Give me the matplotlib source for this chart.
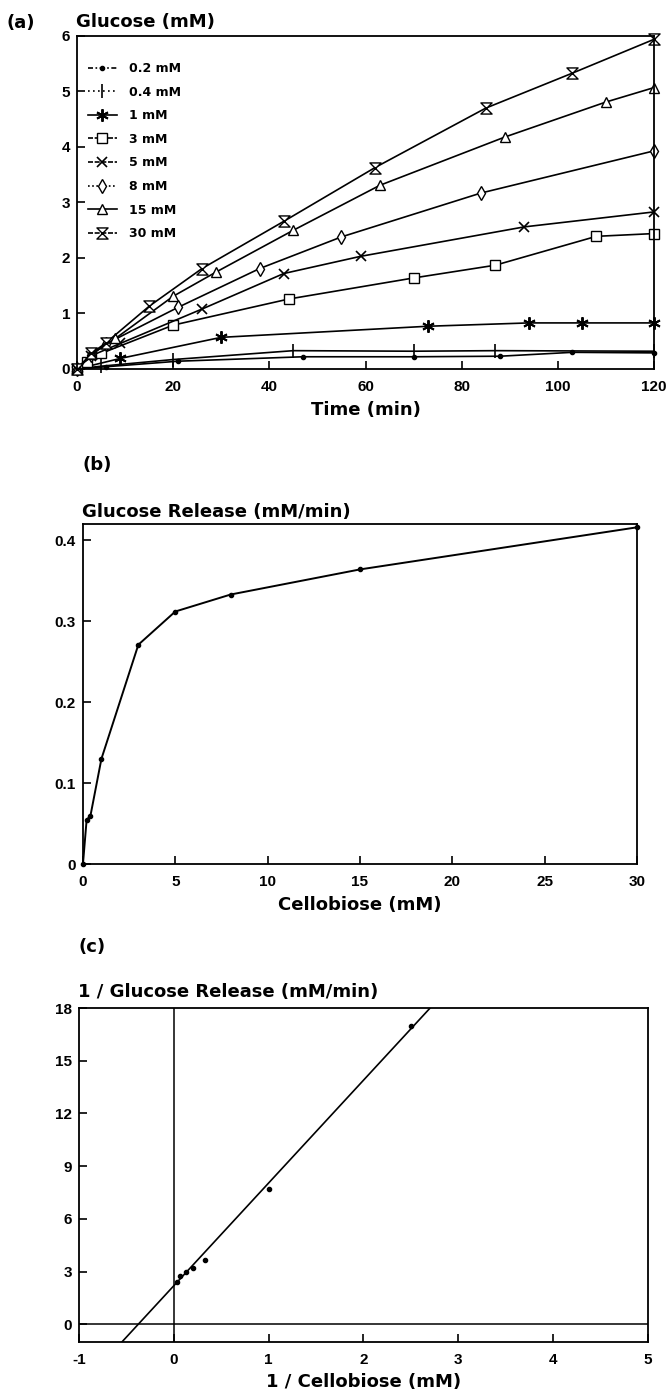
import matplotlib
matplotlib.use("Agg")
import matplotlib.pyplot as plt
import numpy as np
from matplotlib.path import Path
from matplotlib.lines import Line2D

plt.rcParams["font.family"] = "DejaVu Sans"
plt.rcParams["font.weight"] = "bold"
plt.rcParams["axes.unicode_minus"] = False

# (a) glucose produced over time for each starting cellobiose concentration
conc_labels = ["0.2 mM", "0.4 mM", "1 mM", "3 mM", "5 mM", "8 mM", "15 mM", "30 mM"]
t_02 = [0, 6, 21, 47, 70, 88, 103, 120]
g_02 = [0, 0.04, 0.14, 0.22, 0.22, 0.23, 0.30, 0.29]
t_04 = [0, 5, 20, 45, 70, 87, 120]
g_04 = [0, 0.05, 0.17, 0.33, 0.32, 0.33, 0.32]
t_1 = [0, 9, 30, 73, 94, 105, 120]
g_1 = [0, 0.19, 0.57, 0.77, 0.83, 0.83, 0.83]
t_3 = [0, 2, 5, 20, 44, 70, 87, 108, 120]
g_3 = [0, 0.12, 0.28, 0.79, 1.26, 1.64, 1.87, 2.39, 2.44]
t_5 = [0, 3, 9, 26, 43, 59, 93, 120]
g_5 = [0, 0.24, 0.46, 1.08, 1.72, 2.03, 2.56, 2.83]
t_8 = [0, 3, 6, 21, 38, 55, 84, 120]
g_8 = [0, 0.25, 0.45, 1.11, 1.81, 2.38, 3.17, 3.93]
t_15 = [0, 3, 8, 20, 29, 45, 63, 89, 110, 120]
g_15 = [0, 0.27, 0.55, 1.31, 1.75, 2.50, 3.31, 4.18, 4.81, 5.07]
t_30 = [0, 3, 6, 15, 26, 43, 62, 85, 103, 120]
g_30 = [0, 0.28, 0.47, 1.13, 1.81, 2.66, 3.63, 4.70, 5.33, 5.94]

# (b) initial glucose release rate vs cellobiose
cellobiose = [0, 0.2, 0.4, 1, 3, 5, 8, 15, 30]
release = [0, 0.055, 0.059, 0.130, 0.271, 0.312, 0.333, 0.364, 0.416]

# (c) Lineweaver-Burk fit parameters
vmax = 0.455
km = 2.66

hourglass = Path([(-1, 1), (1, 1), (-1, -1), (1, -1), (0, 0)],
                 [Path.MOVETO, Path.LINETO, Path.LINETO, Path.LINETO, Path.CLOSEPOLY])

series = [
    (t_02, g_02, dict(marker="o", ms=3, mfc="black")),
    (t_04, g_04, dict(marker="|", ms=10, mew=1.2)),
    (t_1, g_1, dict(marker=(6, 2, 0), ms=9, mew=1.4)),
    (t_3, g_3, dict(marker="s", ms=6.5, mfc="white")),
    (t_5, g_5, dict(marker="x", ms=7.5, mew=1.2)),
    (t_8, g_8, dict(marker="d", ms=7.5, mfc="white")),
    (t_15, g_15, dict(marker="^", ms=7.5, mfc="white")),
    (t_30, g_30, dict(marker=hourglass, ms=8, mfc="white")),
]
legend_styles = [(0, (3, 1.5, 1, 1.5)), (0, (1, 2)), "-", (0, (3, 1)), (0, (3, 1)),
                 (0, (1, 1.5)), "-", (0, (3, 1))]

tick_font = dict(fontfamily="Liberation Sans", fontweight="bold", fontsize=11)
label_font = dict(fontsize=13, fontweight="bold")

fig = plt.figure(figsize=(6.69, 13.95), dpi=100)
ax_a = fig.add_axes([0.1151, 0.7355, 0.8625, 0.2387])
ax_b = fig.add_axes([0.124, 0.3806, 0.828, 0.2437])
ax_c = fig.add_axes([0.118, 0.038, 0.8505, 0.2394])

for ax in (ax_a, ax_b, ax_c):
    for sp in ax.spines.values():
        sp.set_linewidth(1.3)
    ax.tick_params(direction="in", length=6, width=1.2, pad=5)
    ax.tick_params(axis="x", pad=8)

# panel (a)
handles = []
for (t, g, style), lbl, ls in zip(series, conc_labels, legend_styles):
    ax_a.plot(t, g, color="black", lw=1.2, mec="black", clip_on=False, **style)
    handles.append(Line2D([], [], color="black", lw=1.2, ls=ls, mec="black", **style))
ax_a.set_xlim(0, 120)
ax_a.set_ylim(0, 6)
ax_a.set_xticks([0, 20, 40, 60, 80, 100, 120], ["0", "20", "40", "60", "80", "100", "120"], **tick_font)
ax_a.set_yticks(range(7), [str(v) for v in range(7)], **tick_font)
ax_a.set_xlabel("Time (min)", labelpad=5, **label_font)
ax_a.legend(handles, conc_labels, loc="upper left", bbox_to_anchor=(0.019, 0.922),
            frameon=False, borderpad=0, borderaxespad=0, handlelength=2.3,
            handletextpad=1.0, labelspacing=0.85, prop=dict(size=9, weight="bold"))

# panel (b)
ax_b.plot(cellobiose, release, color="black", lw=1.4, marker="o", ms=3, clip_on=False)
ax_b.set_xlim(0, 30)
ax_b.set_ylim(0, 0.42)
ax_b.set_xticks(range(0, 31, 5), [str(v) for v in range(0, 31, 5)], **tick_font)
ax_b.set_yticks([0, 0.1, 0.2, 0.3, 0.4], ["0", "0.1", "0.2", "0.3", "0.4"], **tick_font)
ax_b.set_xlabel("Cellobiose (mM)", labelpad=5, **label_font)

# panel (c): reciprocal plot with fitted line
inv_s = [1 / c for c in cellobiose[1:]]
inv_v = [1 / v for v in release[1:]]
ax_c.plot(inv_s, inv_v, "o", color="black", ms=3)
xfit = np.linspace(-1, 5, 50)
ax_c.plot(xfit, 1 / vmax + km / vmax * xfit, color="black", lw=1.2)
ax_c.axhline(0, color="black", lw=1.1)
ax_c.axvline(0, color="black", lw=1.1)
ax_c.set_xlim(-1, 5)
ax_c.set_ylim(-1, 18)
ax_c.set_xticks(range(-1, 6), [str(v) for v in range(-1, 6)], **tick_font)
ax_c.set_yticks(range(0, 19, 3), [str(v) for v in range(0, 19, 3)], **tick_font)
ax_c.set_xlabel("1 / Cellobiose (mM)", labelpad=4, **label_font)

# panel letters and y-axis captions
fig.text(7 / 669, 1 - 23 / 1395, "(a)", va="center", **label_font)
fig.text(76 / 669, 1 - 22 / 1395, "Glucose (mM)", va="center", **label_font)
fig.text(82 / 669, 1 - 465 / 1395, "(b)", va="center", **label_font)
fig.text(82 / 669, 1 - 512 / 1395, "Glucose Release (mM/min)", va="center", **label_font)
fig.text(78 / 669, 1 - 947 / 1395, "(c)", va="center", **label_font)
fig.text(78 / 669, 1 - 992 / 1395, "1 / Glucose Release (mM/min)", va="center", **label_font)

fig.savefig("out.png", dpi=100)
